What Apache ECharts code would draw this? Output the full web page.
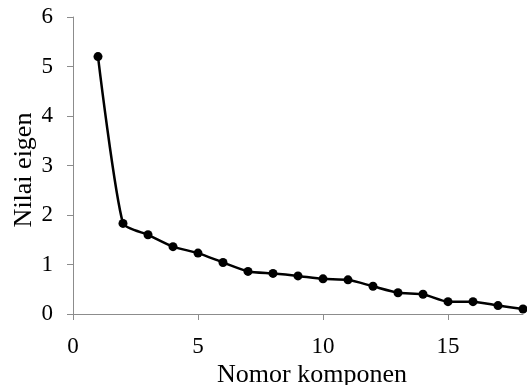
<!DOCTYPE html>
<html>
<head>
<meta charset="utf-8">
<script src="https://cdn.jsdelivr.net/npm/echarts@6/dist/echarts.min.js"></script>
<style>
  html, body { margin: 0; padding: 0; background: #fff; }
  #chart { width: 527px; height: 385px; }
</style>
</head>
<body>
<div id="chart"></div>
<script>
let components = [1, 2, 3, 4, 5, 6, 7, 8, 9, 10, 11, 12, 13, 14, 15, 16, 17, 18];
let eigenValues = [5.2, 1.83, 1.6, 1.36, 1.23, 1.04, 0.86, 0.82, 0.77, 0.71, 0.69, 0.56, 0.43, 0.4, 0.25, 0.25, 0.17, 0.1];

let myChart = echarts.init(document.getElementById('chart'));
let font = '"Liberation Serif", "Times New Roman", serif';

let data = components.map(function(c, i) {
	return [c, eigenValues[i]];
});

let option = {
	animation: false,
	grid: {
		left: 73,
		right: 4,
		top: 17,
		bottom: 71,
		outerBoundsMode: 'none'
	},
	xAxis: {
		type: 'value',
		min: 0,
		max: 18,
		interval: 5,
		name: 'Nomor komponen',
		nameLocation: 'middle',
		nameGap: 48,
		nameMoveOverlap: false,
		nameTextStyle: {
			fontFamily: font,
			fontSize: 26,
			color: '#000',
			padding: [0, 0, 0, 28]
		},
		axisLine: { lineStyle: { color: '#8c8c8c', width: 1 } },
		axisTick: { show: true, length: 6, lineStyle: { color: '#8c8c8c' } },
		axisLabel: {
			fontFamily: font,
			fontSize: 23,
			color: '#000',
			margin: 21,
			showMaxLabel: false
		},
		splitLine: { show: false }
	},
	yAxis: {
		type: 'value',
		min: 0,
		max: 6,
		interval: 1,
		name: 'Nilai eigen',
		nameLocation: 'middle',
		nameGap: 36,
		nameMoveOverlap: false,
		nameTextStyle: {
			fontFamily: font,
			fontSize: 26,
			color: '#000',
			padding: [0, 9, 0, 0]
		},
		axisLine: { show: true, lineStyle: { color: '#8c8c8c', width: 1 } },
		axisTick: { show: true, length: 6, lineStyle: { color: '#8c8c8c' } },
		axisLabel: {
			fontFamily: font,
			fontSize: 23,
			color: '#000',
			margin: 20
		},
		splitLine: { show: false }
	},
	series: [{
		type: 'line',
		data: data,
		smooth: 0.2,
		symbol: 'circle',
		symbolSize: 9,
		clip: false,
		itemStyle: { color: '#000' },
		lineStyle: { color: '#000', width: 2.5 }
	}]
};
myChart.setOption(option);
</script>
</body>
</html>
